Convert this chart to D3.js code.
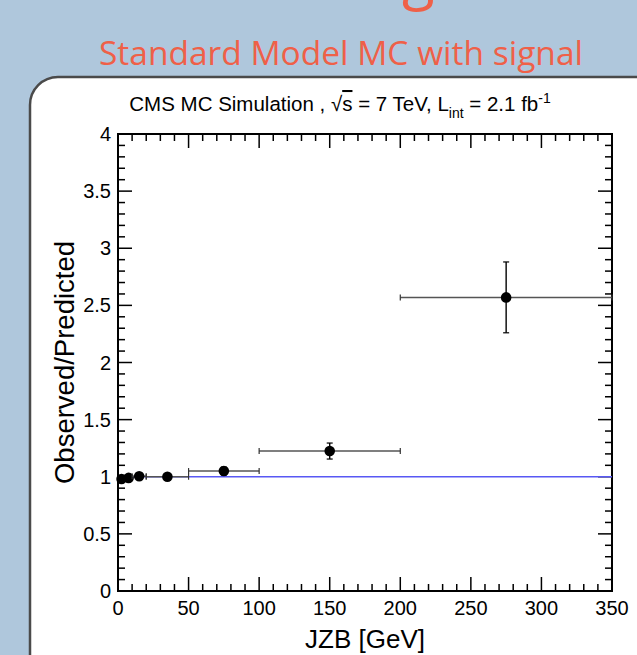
<!DOCTYPE html>
<html>
<head>
<meta charset="utf-8">
<title>JZB Observed/Predicted</title>
<script src="https://d3js.org/d3.v7.min.js"></script>
<style>
  body { margin: 0; background: #afc7dc; }
  svg { display: block; }
  .tick-label { font: 20px "Liberation Sans", Helvetica, Arial, sans-serif; fill: #000; }
</style>
</head>
<body>
<div id="chart"></div>
<script>
// JZB bins (GeV): centres and half widths
const binCentres = [2.5, 7.5, 15, 35, 75, 150, 275];
const binHalfWidths = [2.5, 2.5, 5, 15, 25, 50, 75];
// observed / predicted ratio and its uncertainty
const ratioValues = [0.98, 0.99, 1.005, 1.0, 1.05, 1.225, 2.57];
const ratioErrors = [0.01, 0.01, 0.01, 0.01, 0.035, 0.07, 0.31];
// axis ticks
const xTicks = [0, 50, 100, 150, 200, 250, 300, 350];
const yTicks = [0, 0.5, 1, 1.5, 2, 2.5, 3, 3.5, 4];
const referenceLevel = [1];

const W = 637, H = 655;
const plot = { left: 118, right: 612, top: 134, bottom: 591 };

const svg = d3.select("#chart").append("svg")
    .attr("width", W)
    .attr("height", H);

// slide background and the slide heading that is cut off at the top
svg.append("rect").attr("width", W).attr("height", H).attr("fill", "#afc7dc");
svg.append("text").attr("x", -12).attr("y", -2)
    .style("font", "60px 'Open Sans', sans-serif").attr("fill", "#ef6048").text("p");
svg.append("text").attr("x", 402).attr("y", -2)
    .style("font", "60px 'Open Sans', sans-serif").attr("fill", "#ef6048").text("g");

svg.append("text")
    .attr("x", 341).attr("y", 65)
    .attr("text-anchor", "middle")
    .style("font", "33.5px 'Open Sans', sans-serif")
    .attr("fill", "#ef6048")
    .text("Standard Model MC with signal");

// rounded white panel
svg.append("rect")
    .attr("x", 30).attr("y", 77)
    .attr("width", 640).attr("height", 640)
    .attr("rx", 28).attr("ry", 28)
    .attr("fill", "#fff")
    .attr("stroke", "#4a4a4a")
    .attr("stroke-width", 2.5);

const x = d3.scaleLinear().domain([0, 350]).range([plot.left, plot.right]);
const y = d3.scaleLinear().domain([0, 4]).range([plot.bottom, plot.top]);

// ROOT style ticks on all four sides, pointing inward
const xMinor = d3.range(0, 351, 10);
const yMinor = d3.range(0, 4.001, 0.1).map(v => +v.toFixed(1));
const tickG = svg.append("g").attr("stroke", "#000").attr("stroke-width", 1.5);
xMinor.forEach(v => {
  const len = v % 50 === 0 ? 14 : 7;
  tickG.append("line").attr("x1", x(v)).attr("x2", x(v))
      .attr("y1", plot.bottom).attr("y2", plot.bottom - len);
  tickG.append("line").attr("x1", x(v)).attr("x2", x(v))
      .attr("y1", plot.top).attr("y2", plot.top + len);
});
yMinor.forEach(v => {
  const major = Math.abs(v * 2 - Math.round(v * 2)) < 1e-6;
  const len = major ? 14 : 7;
  tickG.append("line").attr("y1", y(v)).attr("y2", y(v))
      .attr("x1", plot.left).attr("x2", plot.left + len);
  tickG.append("line").attr("y1", y(v)).attr("y2", y(v))
      .attr("x1", plot.right).attr("x2", plot.right - len);
});

// frame
svg.append("rect")
    .attr("x", plot.left).attr("y", plot.top)
    .attr("width", plot.right - plot.left).attr("height", plot.bottom - plot.top)
    .attr("fill", "none").attr("stroke", "#000").attr("stroke-width", 2);

// tick labels
svg.selectAll(".xl").data(xTicks).enter().append("text")
    .attr("class", "tick-label")
    .attr("x", d => x(d)).attr("y", 615)
    .attr("text-anchor", "middle")
    .text(d => d);
svg.selectAll(".yl").data(yTicks).enter().append("text")
    .attr("class", "tick-label")
    .attr("x", 111).attr("y", d => y(d) + 7)
    .attr("text-anchor", "end")
    .text(d => d);

// axis titles
svg.append("text")
    .attr("x", (plot.left + plot.right) / 2).attr("y", 648)
    .attr("text-anchor", "middle")
    .style("font", "26px 'Liberation Sans', Helvetica, Arial, sans-serif")
    .text("JZB [GeV]");
svg.append("text")
    .attr("transform", `translate(74,${(plot.top + plot.bottom) / 2}) rotate(-90)`)
    .attr("text-anchor", "middle")
    .style("font", "27.5px 'Liberation Sans', Helvetica, Arial, sans-serif")
    .text("Observed/Predicted");

// header
const hdr = svg.append("text")
    .attr("x", 340).attr("y", 111)
    .attr("text-anchor", "middle")
    .style("font", "20.5px 'Liberation Sans', Helvetica, Arial, sans-serif");
hdr.append("tspan").text("CMS MC Simulation , √");
hdr.append("tspan").style("text-decoration", "overline").text("s");
hdr.append("tspan").text(" = 7 TeV, L");
hdr.append("tspan").attr("dy", 7).style("font-size", "14px").text("int");
hdr.append("tspan").attr("dy", -7).text(" = 2.1 fb");
hdr.append("tspan").attr("dy", -8).style("font-size", "14px").text("-1");

// reference line at 1
svg.selectAll(".ref").data(referenceLevel).enter().append("line")
    .attr("x1", x(0)).attr("x2", x(350))
    .attr("y1", d => y(d)).attr("y2", d => y(d))
    .attr("stroke", "#5858f4").attr("stroke-width", 1.6);

// points with error bars
const pts = binCentres.map((c, i) => ({ c, hw: binHalfWidths[i], v: ratioValues[i], e: ratioErrors[i] }));
const g = svg.append("g");
pts.forEach(d => {
  const cy = y(d.v);
  g.append("line").attr("x1", x(d.c - d.hw)).attr("x2", x(d.c + d.hw))
      .attr("y1", cy).attr("y2", cy).attr("stroke", "#555").attr("stroke-width", 1.5);
  [d.c - d.hw, d.c + d.hw].forEach(e => {
    g.append("line").attr("x1", x(e)).attr("x2", x(e))
        .attr("y1", cy - 3).attr("y2", cy + 3).attr("stroke", "#333").attr("stroke-width", 1.2);
  });
  g.append("line").attr("x1", x(d.c)).attr("x2", x(d.c))
      .attr("y1", y(d.v + d.e)).attr("y2", y(d.v - d.e)).attr("stroke", "#000").attr("stroke-width", 1.4);
  [d.v - d.e, d.v + d.e].forEach(e => {
    g.append("line").attr("x1", x(d.c) - 3).attr("x2", x(d.c) + 3)
        .attr("y1", y(e)).attr("y2", y(e)).attr("stroke", "#000").attr("stroke-width", 1.2);
  });
  g.append("circle").attr("cx", x(d.c)).attr("cy", cy).attr("r", 5.3).attr("fill", "#000");
});
</script>
</body>
</html>
